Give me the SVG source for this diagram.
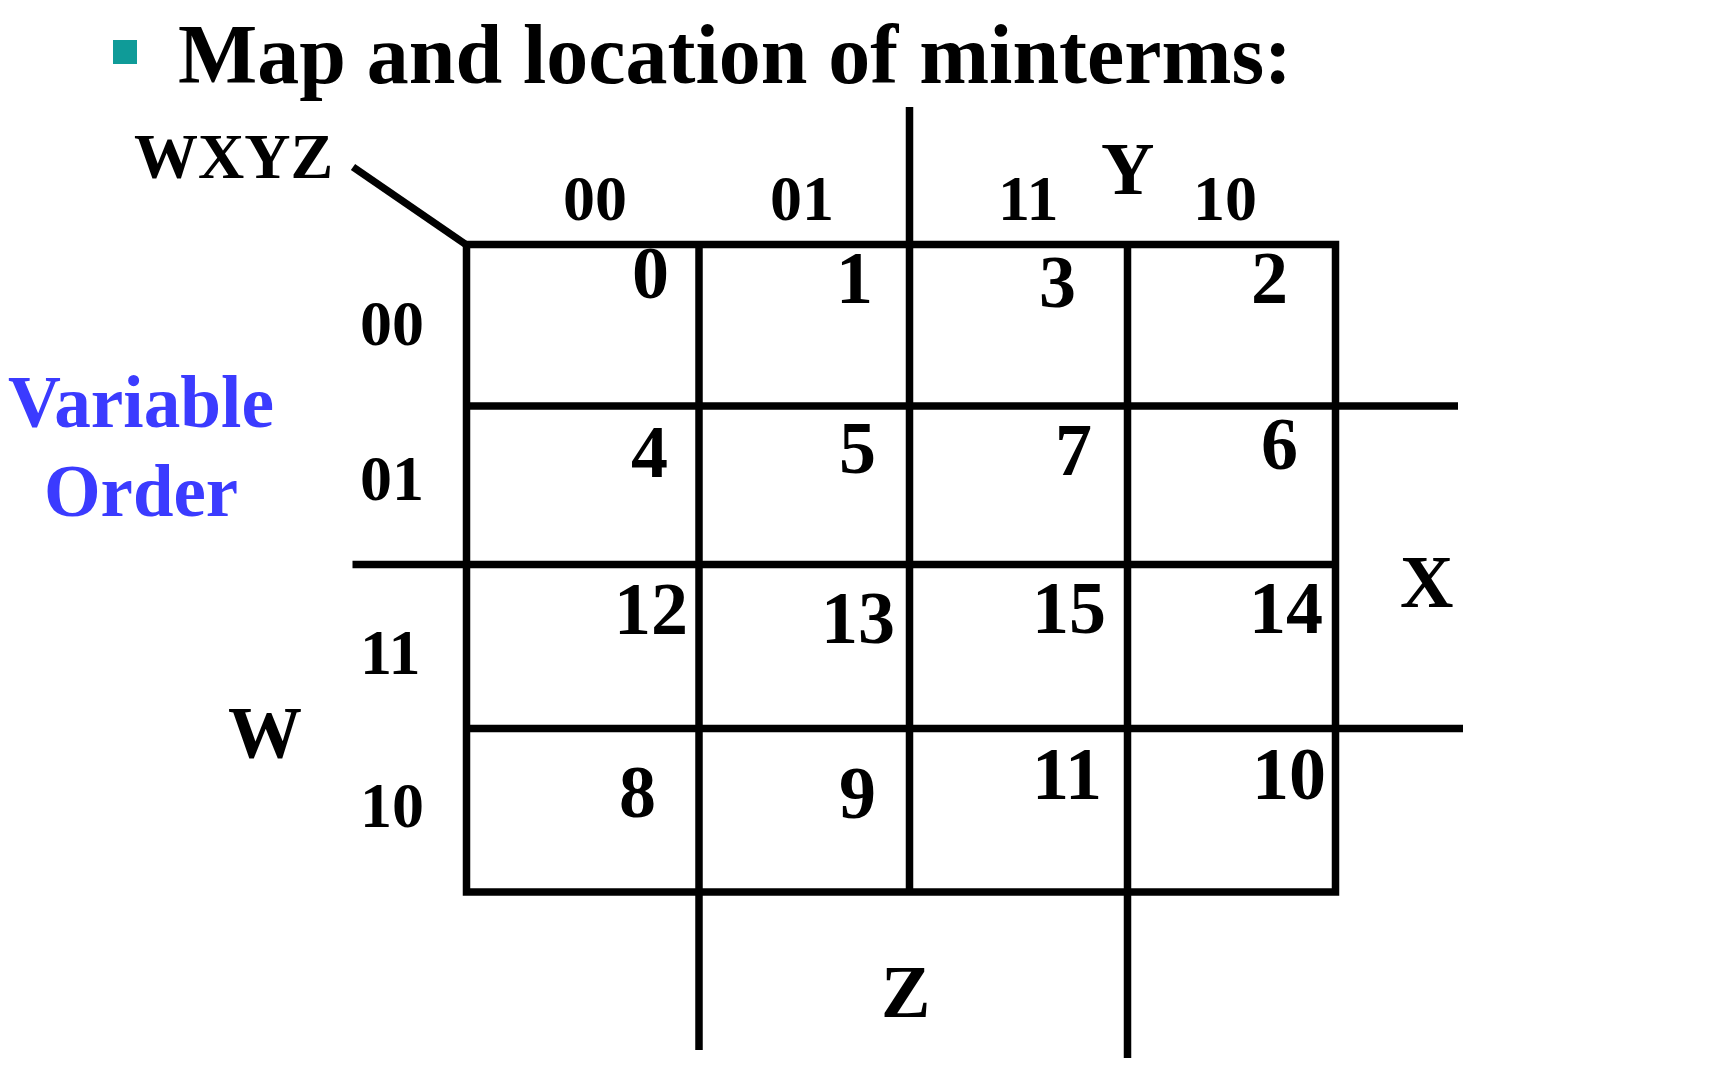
<svg xmlns="http://www.w3.org/2000/svg" width="1736" height="1080" viewBox="0 0 1736 1080">
<style>
  text { font-family: "Liberation Serif", "Times New Roman", serif; font-weight: bold; fill: #000; }
  .title { font-size: 85px; }
  .hdr { font-size: 64px; }
  .var { font-size: 74px; }
  .num { font-size: 74px; }
  .blue { font-size: 75px; fill: #3b3bff; }
  .ln { stroke: #000; stroke-width: 7.5; fill: none; stroke-linecap: butt; }
</style>
<rect width="1736" height="1080" fill="#ffffff"/>
<g id="title">
  <rect x="113" y="40" width="24" height="24" fill="#0f9b98"/>
  <text class="title" x="178" y="83" textLength="1114" lengthAdjust="spacingAndGlyphs">Map and location of minterms:</text>
</g>
<g id="connectors">
  <line class="ln" x1="353" y1="167" x2="468" y2="246"/>
  <rect class="ln" x="466.5" y="244.5" width="869" height="647.5" stroke-linejoin="miter"/>
  <line class="ln" x1="699" y1="244.5" x2="699" y2="1050"/>
  <line class="ln" x1="909.5" y1="107" x2="909.5" y2="892"/>
  <line class="ln" x1="1127.5" y1="244.5" x2="1127.5" y2="1058"/>
  <line class="ln" x1="466.5" y1="406" x2="1458" y2="406"/>
  <line class="ln" x1="352.5" y1="564.5" x2="1335.5" y2="564.5"/>
  <line class="ln" x1="466.5" y1="728.5" x2="1463" y2="728.5"/>
</g>
<g id="labels">
  <text class="hdr" x="134" y="178" font-size="63">WXYZ</text>
  <text class="hdr" x="563" y="220">00</text>
  <text class="hdr" x="770" y="220">01</text>
  <text class="hdr" x="998" y="220">11</text>
  <text class="hdr" x="1193" y="220">10</text>
  <text class="var" x="1101" y="194">Y</text>
  <text class="hdr" x="360" y="345">00</text>
  <text class="hdr" x="360" y="500">01</text>
  <text class="hdr" x="360" y="674">11</text>
  <text class="hdr" x="360" y="827">10</text>
  <text class="blue" x="8" y="427" textLength="266" lengthAdjust="spacingAndGlyphs">Variable</text>
  <text class="blue" x="44" y="516" textLength="194" lengthAdjust="spacingAndGlyphs">Order</text>
  <text class="var" x="228" y="758">W</text>
  <text class="var" x="1400" y="607">X</text>
  <text class="var" x="881" y="1017">Z</text>
</g>
<g id="cells">
  <g id="m0"><text class="num" x="632" y="298" font-size="64">0</text></g>
  <g id="m1"><text class="num" x="836" y="303">1</text></g>
  <g id="m3"><text class="num" x="1039" y="307">3</text></g>
  <g id="m2"><text class="num" x="1251" y="303">2</text></g>
  <g id="m4"><text class="num" x="631" y="477">4</text></g>
  <g id="m5"><text class="num" x="839" y="473">5</text></g>
  <g id="m7"><text class="num" x="1055" y="475">7</text></g>
  <g id="m6"><text class="num" x="1261" y="469">6</text></g>
  <g id="m12"><text class="num" x="614" y="634">12</text></g>
  <g id="m13"><text class="num" x="821" y="643">13</text></g>
  <g id="m15"><text class="num" x="1032" y="633">15</text></g>
  <g id="m14"><text class="num" x="1249" y="633">14</text></g>
  <g id="m8"><text class="num" x="619" y="817">8</text></g>
  <g id="m9"><text class="num" x="839" y="818">9</text></g>
  <g id="m11"><text class="num" x="1032" y="799">11</text></g>
  <g id="m10"><text class="num" x="1252" y="799">10</text></g>
</g>
</svg>
